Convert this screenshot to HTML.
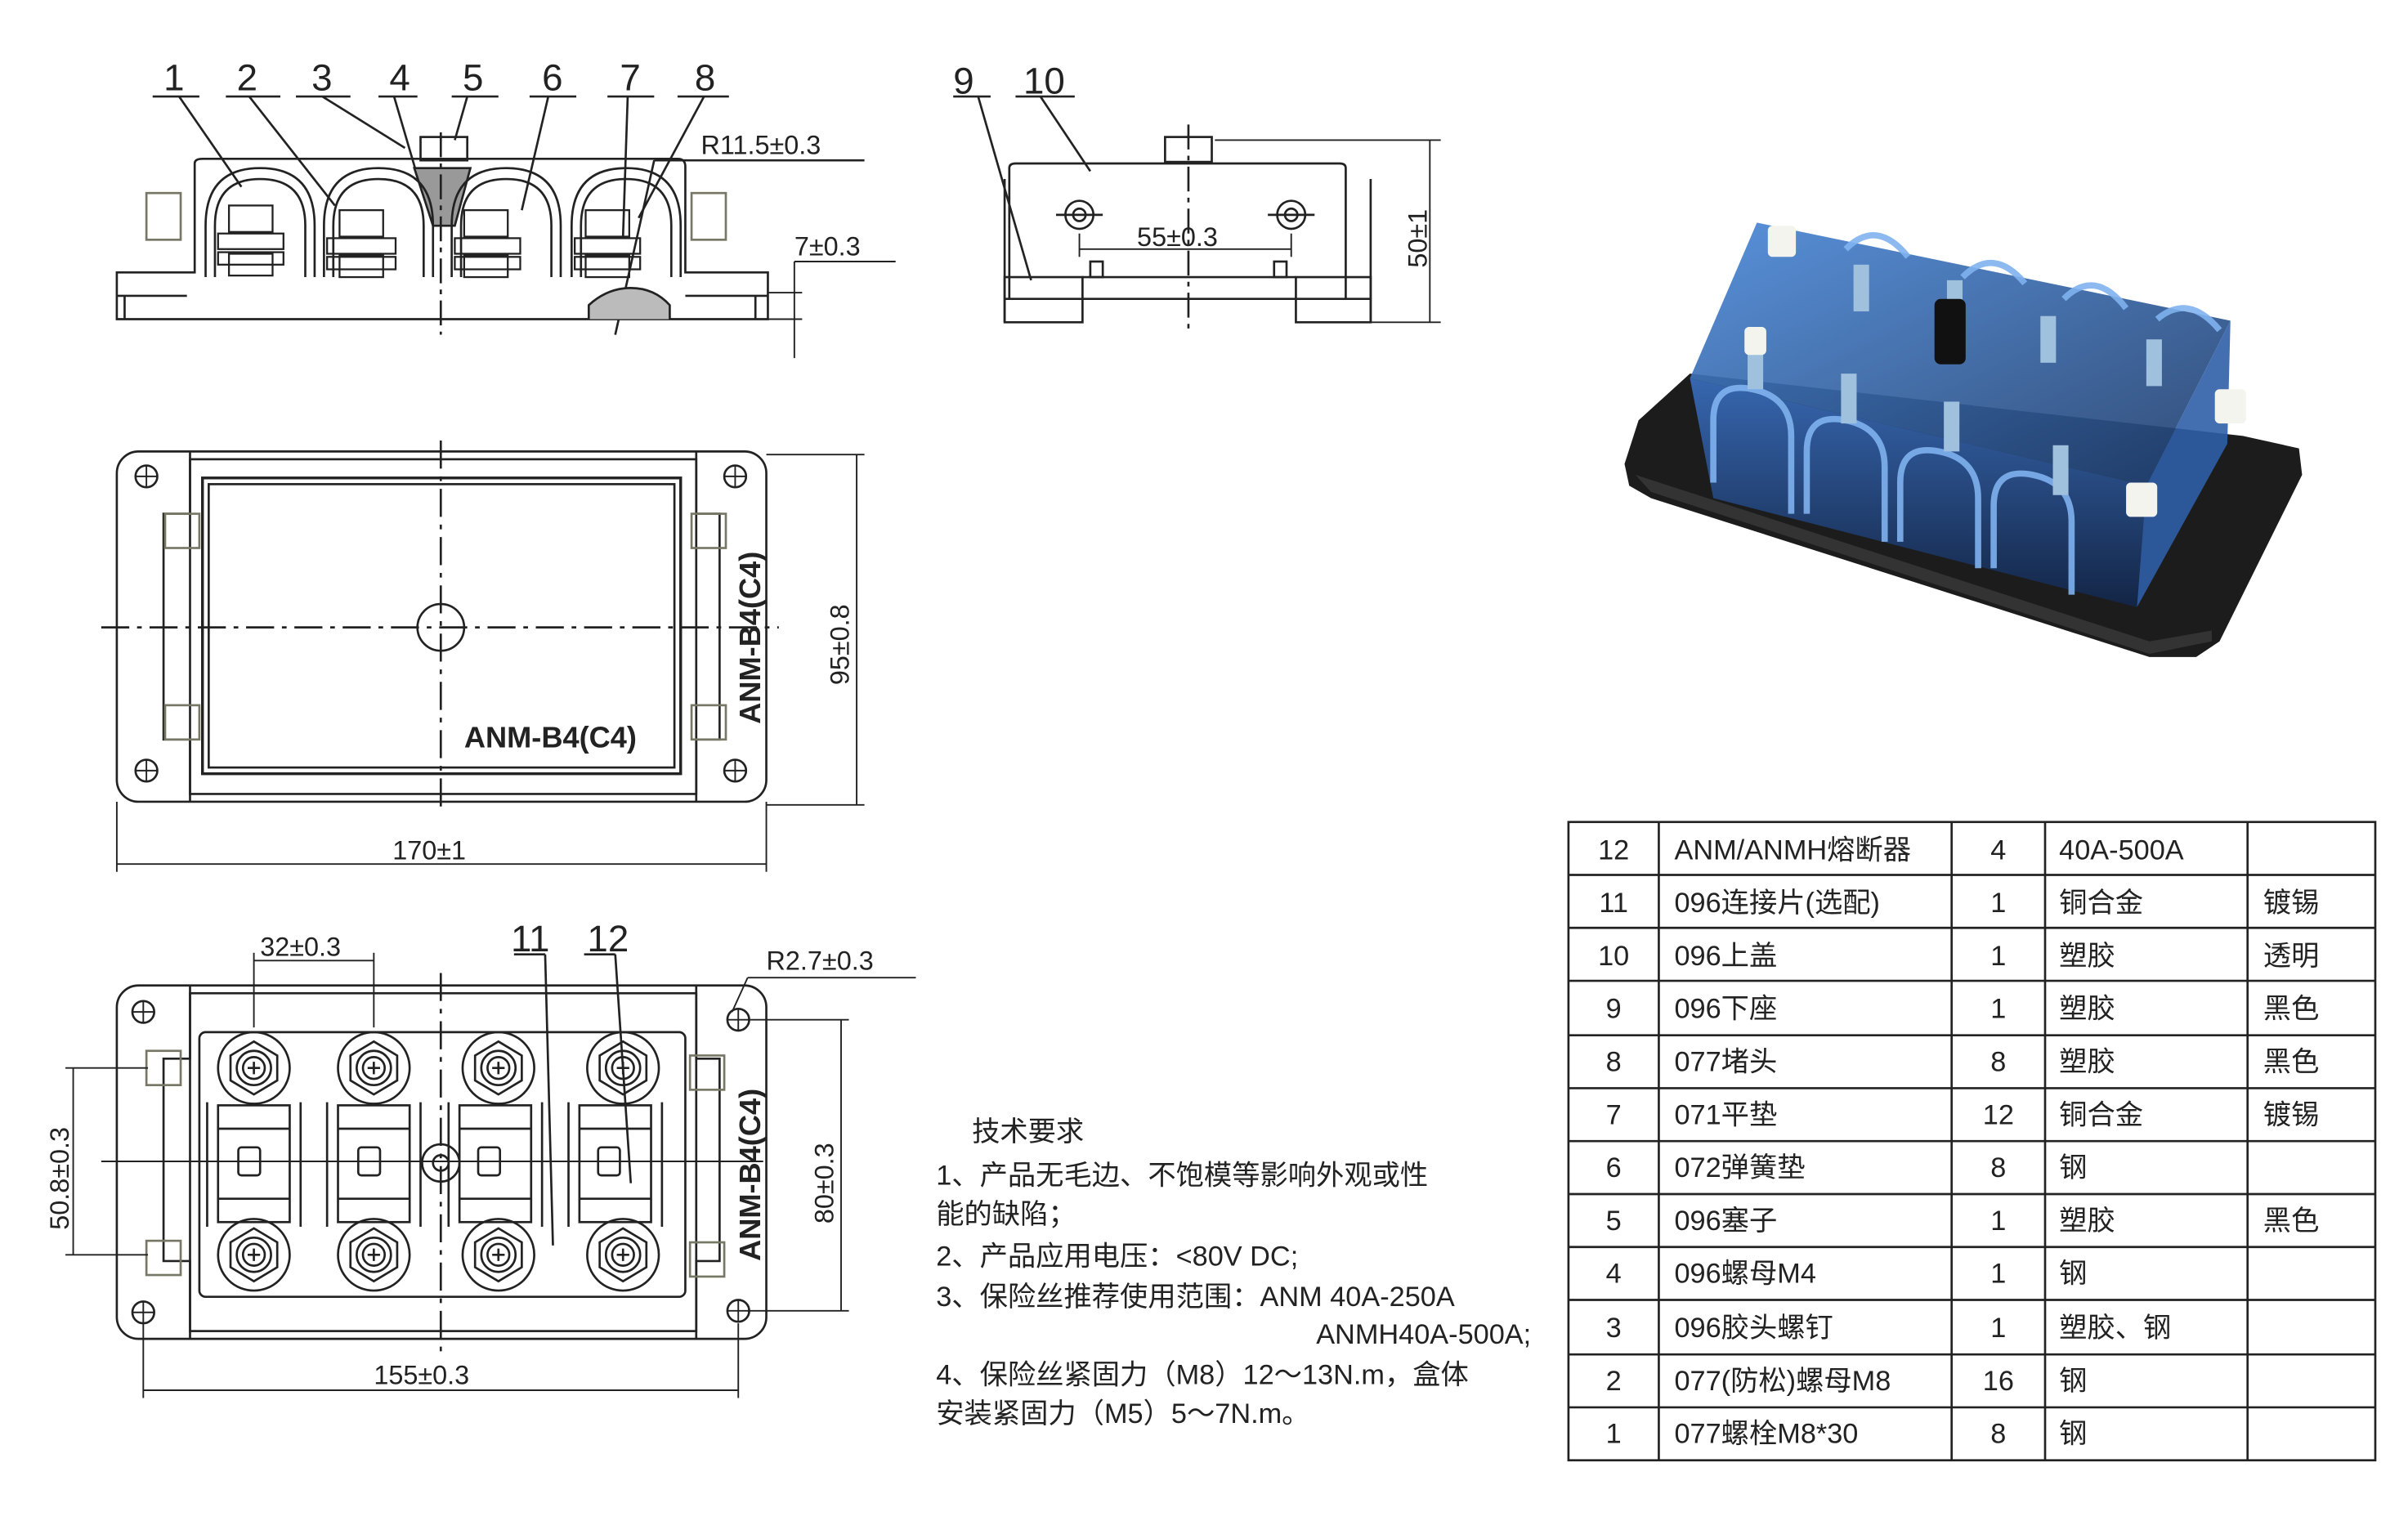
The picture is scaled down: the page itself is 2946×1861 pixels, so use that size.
<!DOCTYPE html>
<html><head><meta charset="utf-8"><style>
html,body{margin:0;padding:0;background:#fff}
svg{display:block}
text{font-family:"Liberation Sans","Noto Sans CJK SC",sans-serif;fill:#222}
</style></head><body>
<svg width="2946" height="1861" viewBox="0 0 1546 977" preserveAspectRatio="none" xmlns="http://www.w3.org/2000/svg">
<defs>
<linearGradient id="tg" x1="0" y1="0" x2="1" y2="1"><stop offset="0" stop-color="#4a88d8"/><stop offset="1" stop-color="#1f3c6a"/></linearGradient>
<linearGradient id="fg" x1="0" y1="0" x2="0" y2="1"><stop offset="0" stop-color="#3a6fc0"/><stop offset="1" stop-color="#12264a"/></linearGradient>
</defs>
<rect width="1546" height="977" fill="#fff"/>
<g fill="none" stroke="#222" stroke-width="1.4">
<!-- ===== View 1: front elevation ===== -->
<g>
<line x1="98" y1="62" x2="128" y2="62"/><line x1="145" y1="62" x2="180" y2="62"/><line x1="190" y1="62" x2="225" y2="62"/><line x1="243" y1="62" x2="268" y2="62"/><line x1="290" y1="62" x2="320" y2="62"/><line x1="340" y1="62" x2="370" y2="62"/><line x1="390" y1="62" x2="420" y2="62"/><line x1="435" y1="62" x2="468" y2="62"/>
<line x1="115" y1="62" x2="155" y2="120"/><line x1="160" y1="62" x2="215" y2="132"/><line x1="207" y1="62" x2="260" y2="95"/><line x1="253" y1="62" x2="270" y2="120"/><line x1="300" y1="62" x2="292" y2="90"/><line x1="352" y1="62" x2="335" y2="135"/><line x1="403" y1="62" x2="400" y2="152"/><line x1="452" y1="62" x2="410" y2="140"/>
<line x1="420" y1="103" x2="555" y2="103"/><line x1="420" y1="103" x2="395" y2="215"/>
<path d="M75 175 H125 V105 Q125 102 130 102 H435 Q440 102 440 107 V175 H493 V205 H75 Z"/>
<line x1="75" y1="190" x2="120" y2="190"/><line x1="440" y1="190" x2="493" y2="190"/>
<line x1="80" y1="190" x2="80" y2="205"/><line x1="485" y1="190" x2="485" y2="205"/>
<rect x="270" y="88" width="30" height="15"/>
<path d="M266 108 L302 108 L292 145 L278 145 Z" fill="#999"/>
<g>
<path d="M132 178 V145 Q132 108 167 108 Q202 108 202 145 V178"/><path d="M138 178 V145 Q138 115 167 115 Q196 115 196 145 V178"/>
<path d="M208 178 V145 Q208 108 243 108 Q278 108 278 145 V178"/><path d="M214 178 V145 Q214 115 243 115 Q272 115 272 145 V178"/>
<path d="M290 178 V145 Q290 108 325 108 Q360 108 360 145 V178"/><path d="M296 178 V145 Q296 115 325 115 Q354 115 354 145 V178"/>
<path d="M367 178 V145 Q367 108 402 108 Q437 108 437 145 V178"/><path d="M373 178 V145 Q373 115 402 115 Q431 115 431 145 V178"/>
</g>
<g stroke-width="1.2">
<rect x="147" y="132" width="28" height="17"/><rect x="140" y="150" width="42" height="10"/><rect x="140" y="162" width="42" height="8"/><rect x="147" y="163" width="28" height="14"/>
<rect x="218" y="135" width="28" height="17"/><rect x="210" y="153" width="44" height="10"/><rect x="210" y="165" width="44" height="8"/><rect x="218" y="164" width="28" height="14"/>
<rect x="298" y="135" width="28" height="17"/><rect x="292" y="153" width="42" height="10"/><rect x="292" y="165" width="42" height="8"/><rect x="298" y="164" width="28" height="14"/>
<rect x="376" y="135" width="28" height="17"/><rect x="369" y="153" width="42" height="10"/><rect x="369" y="165" width="42" height="8"/><rect x="376" y="164" width="28" height="14"/>
</g>
<rect x="94" y="124" width="22" height="30" stroke="#776"/><rect x="444" y="124" width="22" height="30" stroke="#776"/>
<path d="M378 205 V196 Q390 185 405 185 Q420 185 430 196 V205" fill="#bbb"/>
<line x1="283" y1="85" x2="283" y2="215" stroke-dasharray="16 4 3 4"/>
<line x1="493" y1="188" x2="515" y2="188" stroke-width="1"/><line x1="493" y1="205" x2="515" y2="205" stroke-width="1"/>
<line x1="510" y1="168" x2="510" y2="230" stroke-width="1"/><line x1="510" y1="168" x2="575" y2="168" stroke-width="1"/>
</g>
<!-- ===== View 2: side ===== -->
<g>
<line x1="612" y1="62" x2="636" y2="62"/><line x1="652" y1="62" x2="690" y2="62"/>
<line x1="628" y1="62" x2="662" y2="180"/><line x1="668" y1="62" x2="700" y2="110"/>
<path d="M648 192 V108 Q648 105 652 105 H860 Q864 105 864 108 V192"/>
<rect x="748" y="88" width="30" height="16"/>
<rect x="645" y="178" width="50" height="29"/><rect x="832" y="178" width="48" height="29"/>
<line x1="645" y1="192" x2="880" y2="192"/><line x1="645" y1="115" x2="645" y2="207"/><line x1="880" y1="115" x2="880" y2="207"/>
<line x1="695" y1="178" x2="832" y2="178"/><rect x="700" y="168" width="8" height="10"/><rect x="818" y="168" width="8" height="10"/>
<circle cx="693" cy="138" r="9"/><circle cx="693" cy="138" r="4"/><circle cx="829" cy="138" r="9"/><circle cx="829" cy="138" r="4"/>
<line x1="678" y1="138" x2="708" y2="138"/><line x1="814" y1="138" x2="844" y2="138"/>
<line x1="763" y1="80" x2="763" y2="215" stroke-dasharray="16 4 3 4"/>
<line x1="693" y1="150" x2="693" y2="165" stroke-width="1"/><line x1="829" y1="150" x2="829" y2="165" stroke-width="1"/>
<line x1="693" y1="160" x2="829" y2="160" stroke-width="1"/>
<line x1="780" y1="90" x2="925" y2="90" stroke-width="1"/><line x1="880" y1="207" x2="925" y2="207" stroke-width="1"/>
<line x1="918" y1="90" x2="918" y2="207" stroke-width="1"/>
</g>
<!-- ===== View 3: top plan ===== -->
<g>
<rect x="75" y="290" width="417" height="225" rx="14"/>
<path d="M122 290 V330 H105 V475 H122 V515"/><path d="M447 290 V330 H462 V475 H447 V515"/>
<rect x="122" y="295" width="325" height="215"/>
<rect x="130" y="307" width="307" height="190" stroke-width="1.8"/>
<rect x="134" y="311" width="299" height="182"/>
<circle cx="283" cy="403" r="15"/>
<line x1="65" y1="403" x2="500" y2="403" stroke-dasharray="18 5 3 5"/>
<line x1="283" y1="283" x2="283" y2="522" stroke-dasharray="18 5 3 5"/>
<circle cx="94" cy="306" r="7"/><circle cx="472" cy="306" r="7"/><circle cx="94" cy="495" r="7"/><circle cx="472" cy="495" r="7"/>
<path d="M87 306 H101 M94 299 V313 M465 306 H479 M472 299 V313 M87 495 H101 M94 488 V502 M465 495 H479 M472 488 V502" stroke-width="1"/>
<rect x="106" y="330" width="22" height="22" stroke="#776"/><rect x="106" y="453" width="22" height="22" stroke="#776"/>
<rect x="444" y="330" width="22" height="22" stroke="#776"/><rect x="444" y="453" width="22" height="22" stroke="#776"/>
<line x1="492" y1="292" x2="555" y2="292" stroke-width="1"/><line x1="492" y1="517" x2="555" y2="517" stroke-width="1"/>
<line x1="550" y1="292" x2="550" y2="517" stroke-width="1"/>
<line x1="75" y1="515" x2="75" y2="560" stroke-width="1"/><line x1="492" y1="515" x2="492" y2="560" stroke-width="1"/>
<line x1="75" y1="555" x2="492" y2="555" stroke-width="1"/>
</g>
<!-- ===== View 4: bottom plan ===== -->
<g>
<rect x="75" y="633" width="417" height="227" rx="14"/>
<path d="M122 633 V680 H105 V810 H122 V860"/><path d="M447 633 V680 H462 V810 H447 V860"/>
<rect x="122" y="638" width="325" height="217"/>
<rect x="128" y="663" width="312" height="170" rx="4"/>
<g>
<g transform="translate(163,686)"><circle r="23"/><polygon points="0,-17 15,-8 15,8 0,17 -15,8 -15,-8"/><circle r="11"/><circle r="7"/><path d="M-4 0H4M0-4V4"/></g>
<g transform="translate(240,686)"><circle r="23"/><polygon points="0,-17 15,-8 15,8 0,17 -15,8 -15,-8"/><circle r="11"/><circle r="7"/><path d="M-4 0H4M0-4V4"/></g>
<g transform="translate(320,686)"><circle r="23"/><polygon points="0,-17 15,-8 15,8 0,17 -15,8 -15,-8"/><circle r="11"/><circle r="7"/><path d="M-4 0H4M0-4V4"/></g>
<g transform="translate(400,686)"><circle r="23"/><polygon points="0,-17 15,-8 15,8 0,17 -15,8 -15,-8"/><circle r="11"/><circle r="7"/><path d="M-4 0H4M0-4V4"/></g>
<g transform="translate(163,806)"><circle r="23"/><polygon points="0,-17 15,-8 15,8 0,17 -15,8 -15,-8"/><circle r="11"/><circle r="7"/><path d="M-4 0H4M0-4V4"/></g>
<g transform="translate(240,806)"><circle r="23"/><polygon points="0,-17 15,-8 15,8 0,17 -15,8 -15,-8"/><circle r="11"/><circle r="7"/><path d="M-4 0H4M0-4V4"/></g>
<g transform="translate(320,806)"><circle r="23"/><polygon points="0,-17 15,-8 15,8 0,17 -15,8 -15,-8"/><circle r="11"/><circle r="7"/><path d="M-4 0H4M0-4V4"/></g>
<g transform="translate(400,806)"><circle r="23"/><polygon points="0,-17 15,-8 15,8 0,17 -15,8 -15,-8"/><circle r="11"/><circle r="7"/><path d="M-4 0H4M0-4V4"/></g>
</g>
<g>
<rect x="140" y="710" width="46" height="75"/><line x1="140" y1="725" x2="186" y2="725"/><line x1="140" y1="770" x2="186" y2="770"/><rect x="153" y="737" width="14" height="18" rx="2"/>
<rect x="217" y="710" width="46" height="75"/><line x1="217" y1="725" x2="263" y2="725"/><line x1="217" y1="770" x2="263" y2="770"/><rect x="230" y="737" width="14" height="18" rx="2"/>
<rect x="295" y="710" width="46" height="75"/><line x1="295" y1="725" x2="341" y2="725"/><line x1="295" y1="770" x2="341" y2="770"/><rect x="307" y="737" width="14" height="18" rx="2"/>
<rect x="372" y="710" width="46" height="75"/><line x1="372" y1="725" x2="418" y2="725"/><line x1="372" y1="770" x2="418" y2="770"/><rect x="384" y="737" width="14" height="18" rx="2"/>
<line x1="133" y1="708" x2="133" y2="788"/><line x1="193" y1="708" x2="193" y2="788"/><line x1="210" y1="708" x2="210" y2="788"/><line x1="270" y1="708" x2="270" y2="788"/><line x1="288" y1="708" x2="288" y2="788"/><line x1="348" y1="708" x2="348" y2="788"/><line x1="365" y1="708" x2="365" y2="788"/><line x1="425" y1="708" x2="425" y2="788"/>
<circle cx="283" cy="747" r="12"/><circle cx="283" cy="747" r="5"/>
</g>
<line x1="283" y1="625" x2="283" y2="870" stroke-dasharray="18 5 3 5"/>
<line x1="65" y1="746" x2="490" y2="746" stroke-width="1"/>
<circle cx="92" cy="650" r="7"/><circle cx="474" cy="655" r="7"/><circle cx="92" cy="843" r="7"/><circle cx="474" cy="842" r="7"/>
<path d="M85 650 H99 M92 643 V657 M467 655 H481 M474 648 V662 M85 843 H99 M92 836 V850 M467 842 H481 M474 835 V849" stroke-width="1"/>
<rect x="94" y="675" width="22" height="22" stroke="#776"/><rect x="94" y="797" width="22" height="22" stroke="#776"/>
<rect x="443" y="678" width="22" height="22" stroke="#776"/><rect x="443" y="798" width="22" height="22" stroke="#776"/>
<line x1="330" y1="613" x2="350" y2="613"/><line x1="375" y1="613" x2="395" y2="613"/>
<line x1="350" y1="613" x2="355" y2="800"/><line x1="395" y1="613" x2="405" y2="760"/>
<line x1="480" y1="628" x2="588" y2="628" stroke-width="1"/><line x1="480" y1="628" x2="470" y2="650" stroke-width="1"/>
<line x1="163" y1="612" x2="163" y2="660" stroke-width="1"/><line x1="240" y1="612" x2="240" y2="660" stroke-width="1"/>
<line x1="163" y1="617" x2="240" y2="617" stroke-width="1"/>
<line x1="42" y1="686" x2="95" y2="686" stroke-width="1"/><line x1="42" y1="806" x2="95" y2="806" stroke-width="1"/><line x1="47" y1="686" x2="47" y2="806" stroke-width="1"/>
<line x1="480" y1="655" x2="545" y2="655" stroke-width="1"/><line x1="480" y1="842" x2="545" y2="842" stroke-width="1"/><line x1="540" y1="655" x2="540" y2="842" stroke-width="1"/>
<line x1="92" y1="850" x2="92" y2="898" stroke-width="1"/><line x1="474" y1="850" x2="474" y2="898" stroke-width="1"/><line x1="92" y1="893" x2="474" y2="893" stroke-width="1"/>
</g>
</g>
<!-- labels -->
<g font-size="24">
<text x="105" y="58">1</text><text x="152" y="58">2</text><text x="200" y="58">3</text><text x="250" y="58">4</text><text x="297" y="58">5</text><text x="348" y="58">6</text><text x="398" y="58">7</text><text x="446" y="58">8</text>
<text x="612" y="60">9</text><text x="657" y="60">10</text>
<text x="328" y="611">11</text><text x="377" y="611">12</text>
</g>
<g font-size="17">
<text x="450" y="99">R11.5±0.3</text>
<text x="510" y="164">7±0.3</text>
<text x="730" y="158">55±0.3</text>
<text x="252" y="552">170±1</text>
<text x="167" y="614">32±0.3</text>
<text x="492" y="623">R2.7±0.3</text>
<text x="240" y="889">155±0.3</text>
<text transform="translate(916,172) rotate(-90)">50±1</text>
<text transform="translate(545,440) rotate(-90)">95±0.8</text>
<text transform="translate(44,790) rotate(-90)">50.8±0.3</text>
<text transform="translate(535,786) rotate(-90)">80±0.3</text>
</g>
<g font-size="19" font-weight="bold" fill="#444">
<text x="298" y="480">ANM-B4(C4)</text>
<text transform="translate(488,465) rotate(-90)">ANM-B4(C4)</text>
<text transform="translate(488,810) rotate(-90)">ANM-B4(C4)</text>
</g>
<!-- tech requirements -->
<g font-size="18">
<text x="624" y="733">技术要求</text>
<text x="601" y="761">1、产品无毛边、不饱模等影响外观或性</text>
<text x="601" y="786">能的缺陷；</text>
<text x="601" y="813">2、产品应用电压：&lt;80V DC;</text>
<text x="601" y="839">3、保险丝推荐使用范围：ANM 40A-250A</text>
<text x="845" y="863">ANMH40A-500A;</text>
<text x="601" y="889">4、保险丝紧固力（M8）12～13N.m，盒体</text>
<text x="601" y="914">安装紧固力（M5）5～7N.m。</text>
</g>
<!-- photo -->
<g>
<path d="M1043 298 L1052 270 L1085 240 L1440 280 L1476 288 L1478 305 L1425 412 L1410 422 L1380 422 L1060 320 L1046 312 Z" fill="#1c1c1c"/>
<path d="M1060 316 L1380 420 L1420 412 L1420 405 L1380 412 L1050 305 Z" fill="#333"/>
<!-- box top face -->
<path d="M1128 143 L1432 206 L1378 312 L1085 243 Z" fill="url(#tg)" opacity="0.92"/>
<!-- front face -->
<path d="M1085 243 L1378 312 L1372 390 L1100 320 Z" fill="url(#fg)" opacity="0.9"/>
<!-- right face -->
<path d="M1378 312 L1432 206 L1430 285 L1372 390 Z" fill="#2f5fa8" opacity="0.9"/>
<g fill="none" stroke="#7fb2ef" stroke-width="4" opacity="0.9">
<path d="M1100 310 V270 Q1100 245 1125 250 Q1150 255 1150 280 V330"/>
<path d="M1160 330 V290 Q1160 265 1185 270 Q1210 275 1210 300 V348"/>
<path d="M1220 348 V310 Q1220 285 1245 290 Q1270 295 1270 320 V365"/>
<path d="M1280 365 V325 Q1280 300 1305 305 Q1330 310 1330 335 V382"/>
<path d="M1185 160 Q1205 140 1225 165"/><path d="M1260 178 Q1280 158 1300 182"/><path d="M1325 192 Q1345 172 1365 198"/><path d="M1385 205 Q1405 188 1425 212"/>
</g>
<g fill="#9fc1de">
<rect x="1122" y="220" width="10" height="30"/><rect x="1182" y="240" width="10" height="32"/><rect x="1248" y="258" width="10" height="32"/><rect x="1318" y="286" width="10" height="32"/>
<rect x="1190" y="170" width="10" height="30"/><rect x="1250" y="180" width="10" height="28"/><rect x="1310" y="203" width="10" height="30"/><rect x="1378" y="218" width="10" height="30"/>
</g>
<rect x="1242" y="192" width="20" height="42" rx="4" fill="#111"/>
<g fill="#f4f4ee"><rect x="1365" y="310" width="20" height="22" rx="3"/><rect x="1422" y="250" width="20" height="22" rx="3"/><rect x="1135" y="145" width="18" height="20" rx="3"/><rect x="1120" y="210" width="14" height="18" rx="3"/></g>
</g>
<!-- table -->
<g stroke="#222" stroke-width="1.4">
<rect x="1007" y="528" width="518" height="410" fill="none"/>
<line x1="1065" y1="528" x2="1065" y2="938"/><line x1="1253" y1="528" x2="1253" y2="938"/><line x1="1313" y1="528" x2="1313" y2="938"/><line x1="1443" y1="528" x2="1443" y2="938"/>
<line x1="1007" y1="562" x2="1525" y2="562"/><line x1="1007" y1="596" x2="1525" y2="596"/><line x1="1007" y1="630" x2="1525" y2="630"/><line x1="1007" y1="665" x2="1525" y2="665"/><line x1="1007" y1="699" x2="1525" y2="699"/><line x1="1007" y1="733" x2="1525" y2="733"/><line x1="1007" y1="767" x2="1525" y2="767"/><line x1="1007" y1="801" x2="1525" y2="801"/><line x1="1007" y1="835" x2="1525" y2="835"/><line x1="1007" y1="870" x2="1525" y2="870"/><line x1="1007" y1="904" x2="1525" y2="904"/>
</g>
<g font-size="18">
<g text-anchor="middle">
<text x="1036" y="552">12</text><text x="1036" y="586">11</text><text x="1036" y="620">10</text><text x="1036" y="654">9</text><text x="1036" y="688">8</text><text x="1036" y="722">7</text><text x="1036" y="756">6</text><text x="1036" y="790">5</text><text x="1036" y="824">4</text><text x="1036" y="859">3</text><text x="1036" y="893">2</text><text x="1036" y="927">1</text>
<text x="1283" y="552">4</text><text x="1283" y="586">1</text><text x="1283" y="620">1</text><text x="1283" y="654">1</text><text x="1283" y="688">8</text><text x="1283" y="722">12</text><text x="1283" y="756">8</text><text x="1283" y="790">1</text><text x="1283" y="824">1</text><text x="1283" y="859">1</text><text x="1283" y="893">16</text><text x="1283" y="927">8</text>
</g>
<text x="1075" y="552">ANM/ANMH熔断器</text><text x="1075" y="586">096连接片(选配)</text><text x="1075" y="620">096上盖</text><text x="1075" y="654">096下座</text><text x="1075" y="688">077堵头</text><text x="1075" y="722">071平垫</text><text x="1075" y="756">072弹簧垫</text><text x="1075" y="790">096塞子</text><text x="1075" y="824">096螺母M4</text><text x="1075" y="859">096胶头螺钉</text><text x="1075" y="893">077(防松)螺母M8</text><text x="1075" y="927">077螺栓M8*30</text>
<text x="1322" y="552">40A-500A</text><text x="1322" y="586">铜合金</text><text x="1322" y="620">塑胶</text><text x="1322" y="654">塑胶</text><text x="1322" y="688">塑胶</text><text x="1322" y="722">铜合金</text><text x="1322" y="756">钢</text><text x="1322" y="790">塑胶</text><text x="1322" y="824">钢</text><text x="1322" y="859">塑胶、钢</text><text x="1322" y="893">钢</text><text x="1322" y="927">钢</text>
<text x="1453" y="586">镀锡</text><text x="1453" y="620">透明</text><text x="1453" y="654">黑色</text><text x="1453" y="688">黑色</text><text x="1453" y="722">镀锡</text><text x="1453" y="790">黑色</text>
</g>
</svg>
</body></html>
